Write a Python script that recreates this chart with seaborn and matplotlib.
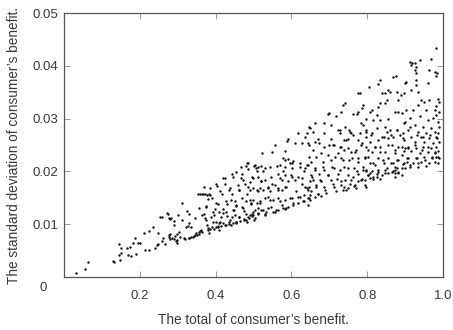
import matplotlib
matplotlib.use("Agg")
import matplotlib.pyplot as plt
import seaborn as sns
import pandas as pd

# values, region by region (x: total, y: std. dev.)
total = [
    0.031, 0.055, 0.064, 0.130, 0.133, 0.148, 0.144, 0.144, 0.151, 0.150,
    0.166, 0.168, 0.177, 0.174, 0.183, 0.186, 0.190, 0.194, 0.201, 0.210,
    0.214, 0.225, 0.225, 0.236, 0.239, 0.245, 0.249, 0.254, 0.259, 0.248,
    0.258, 0.262, 0.266, 0.271, 0.275, 0.278, 0.279, 0.282, 0.289, 0.276,
    0.280, 0.278, 0.280, 0.285, 0.290, 0.293, 0.290, 0.298, 0.302, 0.298,
    0.296,
    0.312, 0.325, 0.329, 0.321, 0.327, 0.334, 0.303, 0.307, 0.316, 0.320,
    0.329, 0.336, 0.343, 0.349, 0.356, 0.360, 0.297, 0.354, 0.360, 0.365,
    0.372, 0.378, 0.382, 0.384, 0.381, 0.374, 0.370, 0.375, 0.378, 0.380,
    0.382, 0.389, 0.393, 0.398, 0.400, 0.404, 0.400, 0.405, 0.409, 0.410,
    0.415, 0.418, 0.420, 0.425, 0.427, 0.431, 0.436, 0.440, 0.443, 0.444,
    0.443, 0.448, 0.450, 0.453, 0.455, 0.461, 0.461, 0.466, 0.470, 0.474,
    0.477, 0.479, 0.483, 0.485, 0.480, 0.483, 0.487, 0.492, 0.494, 0.496,
    0.500, 0.502, 0.492, 0.483,
    0.330, 0.340, 0.345, 0.350, 0.355, 0.365, 0.385, 0.390, 0.395, 0.405,
    0.415, 0.420, 0.425, 0.435, 0.445, 0.455, 0.465, 0.475, 0.485, 0.495,
    0.310, 0.330, 0.345, 0.355, 0.365, 0.370, 0.390, 0.405, 0.410, 0.420,
    0.435, 0.440, 0.455, 0.460, 0.470, 0.475, 0.490, 0.495, 0.430, 0.450,
    0.470,
    0.523, 0.548, 0.557, 0.583, 0.588, 0.592, 0.579, 0.583, 0.592, 0.605,
    0.610, 0.617, 0.627, 0.636, 0.640, 0.649, 0.645, 0.647, 0.645, 0.636,
    0.632, 0.623, 0.601, 0.601, 0.583, 0.579, 0.583, 0.561, 0.564, 0.570,
    0.557, 0.565, 0.574, 0.583, 0.592, 0.601, 0.610, 0.618, 0.627, 0.636,
    0.645, 0.649, 0.504, 0.513, 0.521, 0.530, 0.508, 0.513, 0.521, 0.530,
    0.499, 0.508, 0.517, 0.526, 0.539, 0.543, 0.548, 0.499, 0.508, 0.517,
    0.530, 0.539, 0.552, 0.565, 0.583, 0.601, 0.618, 0.632, 0.645, 0.504,
    0.513, 0.526, 0.539, 0.552, 0.565, 0.579, 0.592, 0.605, 0.618, 0.632,
    0.645, 0.649, 0.499, 0.513, 0.530,
    0.775, 0.782, 0.736, 0.742, 0.731, 0.700, 0.696, 0.788, 0.787, 0.775,
    0.762, 0.773, 0.718, 0.687, 0.661, 0.647, 0.705, 0.784, 0.788, 0.656,
    0.687, 0.727, 0.727, 0.753, 0.758, 0.749, 0.740, 0.669, 0.661, 0.647,
    0.656, 0.674, 0.705, 0.700, 0.687, 0.713, 0.731, 0.775, 0.784, 0.797,
    0.771, 0.758, 0.740, 0.722, 0.696, 0.678, 0.665, 0.652, 0.683, 0.705,
    0.731, 0.753, 0.775, 0.793, 0.661, 0.687, 0.713, 0.740, 0.766, 0.788,
    0.652, 0.674, 0.696, 0.722, 0.749, 0.775, 0.797, 0.656, 0.678, 0.705,
    0.731, 0.758, 0.784, 0.647, 0.665, 0.687, 0.713, 0.740, 0.766, 0.793,
    0.652, 0.669, 0.691, 0.718, 0.744, 0.771, 0.797, 0.661, 0.678, 0.647,
    0.876, 0.867, 0.834, 0.829, 0.805, 0.900, 0.856, 0.860, 0.847, 0.838,
    0.878, 0.889, 0.882, 0.851, 0.834, 0.812, 0.807, 0.829, 0.847, 0.873,
    0.882, 0.891, 0.825, 0.816, 0.834, 0.798, 0.856, 0.900, 0.847, 0.798,
    0.812, 0.860, 0.878, 0.887, 0.843, 0.856, 0.869, 0.829, 0.807, 0.895,
    0.798, 0.820, 0.834, 0.865, 0.882, 0.900, 0.812, 0.847, 0.873, 0.891,
    0.803, 0.829, 0.856, 0.882, 0.904, 0.807, 0.820, 0.843, 0.869, 0.873,
    0.878, 0.895, 0.798, 0.812, 0.829, 0.847, 0.865, 0.872, 0.882, 0.900,
    0.803, 0.816, 0.825, 0.838, 0.856, 0.873, 0.891, 0.807, 0.834,
    0.982, 0.913, 0.919, 0.916, 0.925, 0.938, 0.969, 0.929, 0.925, 0.964,
    0.978, 0.984, 0.929, 0.982, 0.960, 0.903, 0.929, 0.929, 0.916, 0.898,
    0.934, 0.942, 0.951, 0.964, 0.987, 0.989, 0.982, 0.934, 0.903, 0.920,
    0.956, 0.978, 0.989, 0.982, 0.912, 0.938, 0.960, 0.973, 0.987, 0.898,
    0.925, 0.947, 0.969, 0.989, 0.907, 0.934, 0.956, 0.978, 0.987, 0.916,
    0.942, 0.964, 0.982, 0.898, 0.925, 0.951, 0.973, 0.989, 0.907, 0.929,
    0.947, 0.969, 0.982, 0.898, 0.916, 0.938, 0.960, 0.978, 0.987, 0.907,
    0.929, 0.951, 0.971, 0.982, 0.989, 0.898, 0.920, 0.942, 0.964, 0.978,
    0.987, 0.912, 0.934, 0.956,
    # second pass over the dense band, 0.70-1.0
    0.723, 0.741, 0.754, 0.745, 0.763, 0.781, 0.798, 0.811, 0.825, 0.838,
    0.851, 0.864, 0.878, 0.895, 0.913, 0.930, 0.948, 0.966, 0.983, 0.710,
    0.728, 0.750, 0.767, 0.785, 0.803, 0.820, 0.834, 0.855, 0.873, 0.891,
    0.908, 0.926, 0.944, 0.961, 0.979, 0.988, 0.715, 0.737, 0.759, 0.776,
    0.794, 0.816, 0.842, 0.864, 0.878, 0.904, 0.930, 0.953, 0.970, 0.706,
    0.728, 0.750, 0.772, 0.789, 0.807, 0.829, 0.851, 0.873, 0.891, 0.913,
    0.935, 0.719, 0.741, 0.763, 0.785, 0.803, 0.825, 0.847, 0.869, 0.882,
    0.710, 0.732, 0.754, 0.776, 0.794, 0.816, 0.737, 0.750, 0.767,
    # second pass over the dense band, 0.36-0.70
    0.468, 0.485, 0.507, 0.525, 0.543, 0.569, 0.596, 0.622, 0.640, 0.662,
    0.684, 0.424, 0.446, 0.472, 0.499, 0.521, 0.547, 0.574, 0.600, 0.627,
    0.653, 0.675, 0.697, 0.367, 0.384, 0.411, 0.437, 0.463, 0.485, 0.512,
    0.538, 0.565, 0.587, 0.613, 0.640, 0.666, 0.688, 0.375, 0.402, 0.428,
    0.455, 0.481, 0.494, 0.516, 0.543, 0.569, 0.596, 0.622, 0.648, 0.670,
    0.371, 0.397, 0.419, 0.446, 0.472, 0.499, 0.521, 0.547, 0.574, 0.604,
    0.631, 0.393, 0.411, 0.437, 0.463, 0.490, 0.512, 0.534, 0.560, 0.587,
    0.362, 0.380, 0.402, 0.428, 0.455, 0.481, 0.503, 0.530, 0.556, 0.582,
]

std_dev = [
    0.0008, 0.0016, 0.0029, 0.0030, 0.0029, 0.0033, 0.0042, 0.0062, 0.0045, 0.0055,
    0.0054, 0.0042, 0.0040, 0.0057, 0.0065, 0.0073, 0.0044, 0.0065, 0.0065, 0.0084,
    0.0052, 0.0052, 0.0087, 0.0094, 0.0054, 0.0061, 0.0083, 0.0114, 0.0114, 0.0062,
    0.0069, 0.0073, 0.0063, 0.0122, 0.0119, 0.0112, 0.0110, 0.0112, 0.0098, 0.0080,
    0.0082, 0.0075, 0.0072, 0.0074, 0.0072, 0.0078, 0.0107, 0.0081, 0.0117, 0.0071,
    0.0069,
    0.0141, 0.0125, 0.0119, 0.0095, 0.0097, 0.0094, 0.0086, 0.0075, 0.0073, 0.0072,
    0.0073, 0.0076, 0.0077, 0.0083, 0.0086, 0.0088, 0.0064, 0.0158, 0.0158, 0.0157,
    0.0157, 0.0155, 0.0158, 0.0168, 0.0147, 0.0134, 0.0119, 0.0108, 0.0099, 0.0089,
    0.0083, 0.0114, 0.0123, 0.0128, 0.0177, 0.0172, 0.0105, 0.0096, 0.0089, 0.0102,
    0.0114, 0.0158, 0.0128, 0.0177, 0.0123, 0.0138, 0.0105, 0.0099, 0.0114, 0.0196,
    0.0158, 0.0126, 0.0144, 0.0105, 0.0198, 0.0164, 0.0114, 0.0187, 0.0133, 0.0108,
    0.0177, 0.0210, 0.0215, 0.0205, 0.0120, 0.0105, 0.0111, 0.0164, 0.0139, 0.0120,
    0.0108, 0.0210, 0.0180, 0.0158,
    0.0073, 0.0076, 0.0079, 0.0080, 0.0081, 0.0085, 0.0090, 0.0094, 0.0091, 0.0095,
    0.0097, 0.0102, 0.0098, 0.0100, 0.0103, 0.0104, 0.0107, 0.0110, 0.0113, 0.0115,
    0.0108, 0.0102, 0.0112, 0.0130, 0.0118, 0.0170, 0.0150, 0.0138, 0.0123, 0.0188,
    0.0165, 0.0145, 0.0135, 0.0175, 0.0150, 0.0125, 0.0145, 0.0190, 0.0115, 0.0118,
    0.0195,
    0.0234, 0.0236, 0.0250, 0.0238, 0.0257, 0.0261, 0.0225, 0.0222, 0.0223, 0.0219,
    0.0253, 0.0272, 0.0254, 0.0266, 0.0272, 0.0282, 0.0253, 0.0228, 0.0212, 0.0206,
    0.0200, 0.0215, 0.0215, 0.0206, 0.0209, 0.0200, 0.0193, 0.0210, 0.0196, 0.0187,
    0.0174, 0.0168, 0.0165, 0.0171, 0.0181, 0.0190, 0.0184, 0.0190, 0.0177, 0.0171,
    0.0165, 0.0181, 0.0212, 0.0209, 0.0210, 0.0206, 0.0200, 0.0190, 0.0181, 0.0184,
    0.0168, 0.0165, 0.0168, 0.0165, 0.0171, 0.0162, 0.0177, 0.0146, 0.0140, 0.0143,
    0.0149, 0.0152, 0.0146, 0.0149, 0.0146, 0.0149, 0.0152, 0.0155, 0.0149, 0.0127,
    0.0130, 0.0127, 0.0130, 0.0124, 0.0127, 0.0130, 0.0133, 0.0136, 0.0140, 0.0143,
    0.0136, 0.0146, 0.0117, 0.0120, 0.0119,
    0.0348, 0.0349, 0.0326, 0.0330, 0.0313, 0.0311, 0.0309, 0.0326, 0.0320, 0.0313,
    0.0308, 0.0308, 0.0304, 0.0292, 0.0291, 0.0285, 0.0288, 0.0292, 0.0288, 0.0275,
    0.0272, 0.0278, 0.0273, 0.0278, 0.0272, 0.0262, 0.0260, 0.0262, 0.0256, 0.0250,
    0.0241, 0.0253, 0.0262, 0.0250, 0.0247, 0.0250, 0.0247, 0.0260, 0.0250, 0.0266,
    0.0241, 0.0237, 0.0241, 0.0234, 0.0231, 0.0234, 0.0228, 0.0218, 0.0218, 0.0222,
    0.0225, 0.0222, 0.0225, 0.0228, 0.0206, 0.0203, 0.0206, 0.0209, 0.0206, 0.0209,
    0.0193, 0.0196, 0.0193, 0.0196, 0.0193, 0.0196, 0.0200, 0.0184, 0.0181, 0.0184,
    0.0181, 0.0184, 0.0184, 0.0171, 0.0174, 0.0171, 0.0171, 0.0171, 0.0172, 0.0174,
    0.0162, 0.0158, 0.0160, 0.0162, 0.0165, 0.0168, 0.0171, 0.0152, 0.0154, 0.0149,
    0.0381, 0.0378, 0.0374, 0.0365, 0.0359, 0.0368, 0.0354, 0.0351, 0.0349, 0.0348,
    0.0351, 0.0345, 0.0335, 0.0335, 0.0329, 0.0316, 0.0313, 0.0322, 0.0329, 0.0313,
    0.0313, 0.0310, 0.0307, 0.0297, 0.0297, 0.0300, 0.0300, 0.0294, 0.0285, 0.0275,
    0.0272, 0.0278, 0.0278, 0.0269, 0.0266, 0.0263, 0.0266, 0.0259, 0.0256, 0.0263,
    0.0247, 0.0247, 0.0247, 0.0250, 0.0247, 0.0244, 0.0237, 0.0237, 0.0234, 0.0231,
    0.0228, 0.0225, 0.0225, 0.0222, 0.0225, 0.0215, 0.0212, 0.0216, 0.0215, 0.0209,
    0.0206, 0.0214, 0.0203, 0.0201, 0.0199, 0.0203, 0.0199, 0.0197, 0.0199, 0.0206,
    0.0193, 0.0190, 0.0195, 0.0193, 0.0197, 0.0190, 0.0193, 0.0187, 0.0185,
    0.0433, 0.0408, 0.0405, 0.0402, 0.0405, 0.0411, 0.0412, 0.0398, 0.0392, 0.0392,
    0.0389, 0.0387, 0.0386, 0.0380, 0.0367, 0.0370, 0.0373, 0.0364, 0.0354, 0.0348,
    0.0351, 0.0335, 0.0332, 0.0335, 0.0338, 0.0332, 0.0323, 0.0326, 0.0316, 0.0316,
    0.0316, 0.0316, 0.0313, 0.0307, 0.0301, 0.0304, 0.0297, 0.0301, 0.0294, 0.0291,
    0.0288, 0.0285, 0.0282, 0.0285, 0.0279, 0.0275, 0.0272, 0.0275, 0.0272, 0.0266,
    0.0266, 0.0263, 0.0266, 0.0260, 0.0256, 0.0256, 0.0253, 0.0256, 0.0247, 0.0244,
    0.0247, 0.0244, 0.0247, 0.0238, 0.0238, 0.0234, 0.0236, 0.0234, 0.0238, 0.0225,
    0.0225, 0.0228, 0.0225, 0.0228, 0.0225, 0.0215, 0.0215, 0.0217, 0.0215, 0.0218,
    0.0215, 0.0209, 0.0209, 0.0210,
    # second pass over the dense band, 0.70-1.0
    0.0278, 0.0285, 0.0275, 0.0259, 0.0269, 0.0272, 0.0278, 0.0269, 0.0282, 0.0266,
    0.0275, 0.0269, 0.0278, 0.0272, 0.0285, 0.0269, 0.0266, 0.0269, 0.0263, 0.0250,
    0.0247, 0.0244, 0.0237, 0.0253, 0.0241, 0.0247, 0.0237, 0.0250, 0.0241, 0.0247,
    0.0244, 0.0250, 0.0241, 0.0247, 0.0237, 0.0228, 0.0228, 0.0222, 0.0225, 0.0218,
    0.0225, 0.0215, 0.0222, 0.0215, 0.0222, 0.0218, 0.0225, 0.0222, 0.0228, 0.0209,
    0.0203, 0.0206, 0.0200, 0.0203, 0.0197, 0.0203, 0.0206, 0.0203, 0.0206, 0.0212,
    0.0215, 0.0186, 0.0184, 0.0190, 0.0186, 0.0193, 0.0190, 0.0197, 0.0200, 0.0197,
    0.0177, 0.0174, 0.0177, 0.0181, 0.0184, 0.0186, 0.0164, 0.0168, 0.0174,
    # second pass over the dense band, 0.36-0.70
    0.0209, 0.0215, 0.0206, 0.0200, 0.0209, 0.0212, 0.0215, 0.0209, 0.0212, 0.0203,
    0.0209, 0.0187, 0.0190, 0.0184, 0.0187, 0.0181, 0.0190, 0.0184, 0.0193, 0.0187,
    0.0190, 0.0184, 0.0193, 0.0158, 0.0155, 0.0162, 0.0168, 0.0165, 0.0171, 0.0162,
    0.0168, 0.0165, 0.0171, 0.0162, 0.0168, 0.0171, 0.0165, 0.0133, 0.0140, 0.0143,
    0.0136, 0.0143, 0.0140, 0.0140, 0.0146, 0.0143, 0.0149, 0.0152, 0.0155, 0.0158,
    0.0111, 0.0118, 0.0121, 0.0127, 0.0130, 0.0124, 0.0127, 0.0133, 0.0136, 0.0140,
    0.0143, 0.0105, 0.0105, 0.0108, 0.0114, 0.0117, 0.0121, 0.0124, 0.0127, 0.0130,
    0.0089, 0.0092, 0.0095, 0.0099, 0.0102, 0.0108, 0.0111, 0.0118, 0.0124, 0.0129,
]

x_ticks = [0.2, 0.4, 0.6, 0.8, 1.0]
x_tick_labels = ["0.2", "0.4", "0.6", "0.8", "1.0"]
y_ticks = [0.01, 0.02, 0.03, 0.04, 0.05]
y_tick_labels = ["0.01", "0.02", "0.03", "0.04", "0.05"]

df = pd.DataFrame({"total": total, "std": std_dev})

sns.set_theme(style="ticks")
plt.rcParams["font.family"] = ["Liberation Sans", "DejaVu Sans"]
text_color = "#3a3a3a"

fig = plt.figure(figsize=(4.53, 3.30), dpi=100)
ax = fig.add_axes([0.1413, 0.1606, 0.8367, 0.80])

sns.scatterplot(data=df, x="total", y="std", ax=ax, color="#111111",
                s=3, linewidth=0, legend=False)

ax.set_xlim(0, 1.0)
ax.set_ylim(0, 0.05)
ax.set_xticks(x_ticks)
ax.set_xticklabels(x_tick_labels)
ax.set_yticks(y_ticks)
ax.set_yticklabels(y_tick_labels)
ax.tick_params(axis="both", direction="in", length=4, width=0.6,
               color="#888888", labelsize=9.5, labelcolor=text_color,
               top=True, right=True)
ax.tick_params(axis="x", pad=9)
ax.tick_params(axis="y", pad=4)
for sp in ax.spines.values():
    sp.set_visible(True)
    sp.set_color("#555555")
    sp.set_linewidth(0.9)

# origin label sits at the corner
ax.text(-0.055, -0.042, "0", transform=ax.transAxes, ha="center", va="center",
        fontsize=9.5, color=text_color)

ax.set_xlabel("The total of consumer\u2019s benefit.", fontsize=9.8,
              color=text_color, labelpad=8)
ax.set_ylabel("The standard deviation of consumer\u2019s benefit.", fontsize=9.8,
              color=text_color, labelpad=8)

fig.savefig("out.png", dpi=100)
